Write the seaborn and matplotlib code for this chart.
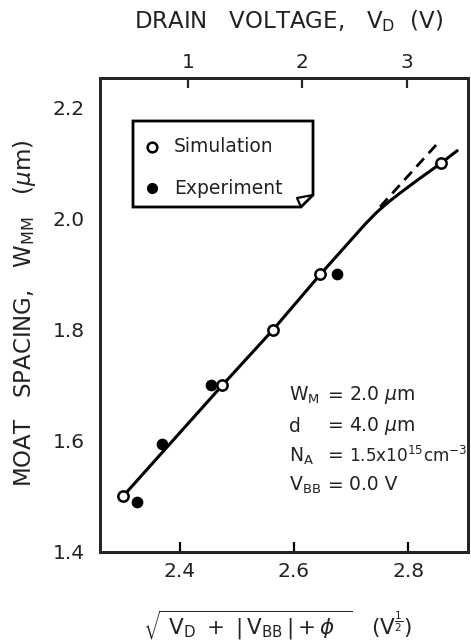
import numpy as np
import matplotlib
matplotlib.use("Agg")
import matplotlib.pyplot as plt
import matplotlib.transforms as mtransforms
from matplotlib.patches import Polygon
from matplotlib.lines import Line2D
import seaborn as sns
import pandas as pd

# ---- data ----
sim_x = [2.300, 2.474, 2.563, 2.646, 2.857]
sim_y = [1.50, 1.70, 1.80, 1.90, 2.10]
exp_x = [2.325, 2.369, 2.455, 2.676]
exp_y = [1.49, 1.595, 1.70, 1.90]
curve_x = [2.300, 2.474, 2.563, 2.646, 2.725, 2.745, 2.765, 2.785, 2.815, 2.857, 2.886]
curve_y = [1.50, 1.70, 1.80, 1.90, 1.991, 2.012, 2.030, 2.046, 2.069, 2.100, 2.123]
dash_x = [2.751, 2.855]
dash_y = [2.022, 2.140]
bottom_ticks = [2.4, 2.6, 2.8]
bottom_labels = ["2.4", "2.6", "2.8"]
left_ticks = [1.4, 1.6, 1.8, 2.0, 2.2]
left_labels = ["1.4", "1.6", "1.8", "2.0", "2.2"]
left_minor = [1.5, 1.7, 1.9, 2.1]
drain_ticks = [1, 2, 3]
phi = 4.83

sns.set_style("white")
plt.rcParams['font.family'] = ['DejaVu Sans']
plt.rcParams['mathtext.fontset'] = 'dejavusans'

W, H = 471, 643
fig = plt.figure(figsize=(W / 100, H / 100), dpi=100)
ax = fig.add_axes([100 / W, 1 - 552 / H, 368 / W, 474 / H])

px = mtransforms.Affine2D().scale(1 / W, -1 / H).translate(0, 1) + fig.transFigure

sim_df = pd.DataFrame({"x": sim_x, "y": sim_y})
exp_df = pd.DataFrame({"x": exp_x, "y": exp_y})
curve_df = pd.DataFrame({"x": curve_x, "y": curve_y})
dash_df = pd.DataFrame({"x": dash_x, "y": dash_y})

sns.lineplot(data=curve_df, x="x", y="y", sort=False, estimator=None,
             color="black", lw=2.2, ax=ax, zorder=2)
sns.lineplot(data=dash_df, x="x", y="y", sort=False, estimator=None,
             color="black", lw=2.0, ax=ax, zorder=2, linestyle=(0, (4, 2.5)))
sns.scatterplot(data=sim_df, x="x", y="y", ax=ax, s=55, marker="o",
                facecolor="white", edgecolor="black", linewidth=1.8, zorder=3)
sns.scatterplot(data=exp_df, x="x", y="y", ax=ax, s=55, marker="o",
                color="black", edgecolor="black", linewidth=1.0, zorder=3)

ax.set_xlim(2.26, 2.905)
ax.set_ylim(1.4, 2.254)
ax.set_xticks(bottom_ticks)
ax.set_xticklabels(bottom_labels)
ax.set_yticks(left_ticks)
ax.set_yticklabels(left_labels)
ax.set_yticks(left_minor, minor=True)
ax.tick_params(axis="both", which="both", direction="in", width=1.6, length=7,
               labelsize=14.5, color="black", labelcolor="#222222")
ax.tick_params(axis="x", pad=7)
ax.tick_params(axis="y", pad=11)
ax.set_xlabel("")
ax.set_ylabel("")
for sp in ax.spines.values():
    sp.set_visible(True)
    sp.set_linewidth(2.0)
    sp.set_color("black")

# top axis: drain voltage
ax2 = ax.twiny()
ax2.set_xlim(ax.get_xlim())
ax2.set_xticks([np.sqrt(v + phi) for v in drain_ticks])
ax2.set_xticklabels([str(v) for v in drain_ticks])
ax2.tick_params(axis="x", direction="in", width=1.6, length=7, labelsize=14.5,
                pad=4, labelcolor="#222222")
for sp in ax2.spines.values():
    sp.set_linewidth(2.0)

# titles / labels
fig.text(289 / W, 1 - 21 / H, "DRAIN   VOLTAGE,   V$_\\mathregular{D}$  (V)",
         ha="center", va="center", fontsize=16.5, color="#222222")
fig.text(25 / W, 1 - 313 / H,
         "MOAT   SPACING,   W$_\\mathregular{MM}$   ($\\mu$m)",
         ha="center", va="center", rotation=90, fontsize=16.5, color="#222222")
fig.text(278 / W, 1 - 625 / H,
         r"$\sqrt{\mathregular{\ V_D\ +\ |\,V_{BB}\,|+}\phi\ \ }$   (V$^{\frac{1}{2}}$)",
         ha="center", va="center", fontsize=15.5, color="#222222")

# legend box with folded corner
box = Polygon([(133, 121), (313, 121), (313, 195), (301, 207), (133, 207)],
              closed=True, facecolor="white", edgecolor="black", lw=2.0,
              transform=px, zorder=5)
fig.patches.append(box)
fold = Line2D([313, 297, 301], [195, 198, 207], color="black", lw=1.6,
              transform=px, zorder=6)
fig.lines.append(fold)
fig.lines.append(Line2D([152], [147], marker="o", markersize=7, markerfacecolor="white",
                        markeredgecolor="black", markeredgewidth=1.8, transform=px, zorder=6))
fig.lines.append(Line2D([152], [188], marker="o", markersize=7, markerfacecolor="black",
                        markeredgecolor="black", transform=px, zorder=6))
fig.text(174 / W, 1 - 147 / H, "Simulation", ha="left", va="center",
         fontsize=13.5, color="#222222", zorder=7)
fig.text(174 / W, 1 - 188 / H, "Experiment", ha="left", va="center",
         fontsize=13.5, color="#222222", zorder=7)

# parameter annotation
rows = [("W$_\\mathregular{M}$", "2.0 $\\mu$m", 395, 13.5),
        ("d", "4.0 $\\mu$m", 426, 13.5),
        ("N$_\\mathregular{A}$", "1.5x10$^{15}$cm$^{-3}$", 456, 12.2),
        ("V$_\\mathregular{BB}$", "0.0 V", 485, 13.5)]
for lab, val, yy, fs in rows:
    fig.text(289 / W, 1 - yy / H, lab, ha="left", va="center", fontsize=13.5, color="#222222")
    fig.text(336 / W, 1 - yy / H, "=", ha="center", va="center", fontsize=13.5, color="#222222")
    fig.text(349 / W, 1 - yy / H, val, ha="left", va="center", fontsize=fs, color="#222222")

fig.savefig("out.png", dpi=100)
